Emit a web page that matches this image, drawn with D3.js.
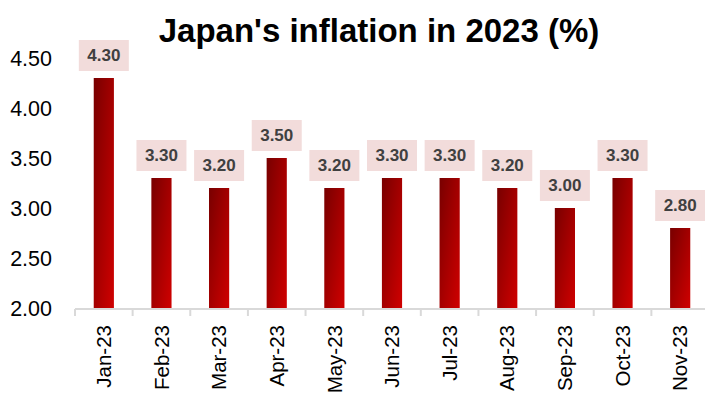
<!DOCTYPE html>
<html>
<head>
<meta charset="utf-8">
<script src="https://cdn.jsdelivr.net/npm/d3@7"></script>
<style>
  body { margin: 0; background: #fff; }
  svg { display: block; }
</style>
</head>
<body>
<svg width="705" height="403"></svg>
<script>
var months = ["Jan-23", "Feb-23", "Mar-23", "Apr-23", "May-23", "Jun-23", "Jul-23", "Aug-23", "Sep-23", "Oct-23", "Nov-23"];
var inflation = [4.30, 3.30, 3.20, 3.50, 3.20, 3.30, 3.30, 3.20, 3.00, 3.30, 2.80];
var yTicks = [2.00, 2.50, 3.00, 3.50, 4.00, 4.50];

var narrow = "'Liberation Sans Narrow', 'Liberation Sans', sans-serif";
var font = "'Liberation Sans', Arial, sans-serif";

var svg = d3.select("svg");

var x = d3.scaleBand()
    .domain(months)
    .range([75, 709])
    .paddingInner(0.65)
    .paddingOuter(0.325);

var y = d3.scaleLinear()
    .domain([2, 4.5])
    .range([308, 58]);

var grad = svg.append("defs").append("linearGradient")
    .attr("id", "barGrad")
    .attr("x1", 0).attr("y1", 0)
    .attr("x2", 1).attr("y2", 1);
grad.append("stop").attr("offset", "0%").attr("stop-color", "#780000");
grad.append("stop").attr("offset", "100%").attr("stop-color", "#d00000");

// title
svg.append("text")
    .attr("x", 379)
    .attr("y", 42)
    .attr("text-anchor", "middle")
    .style("font-family", narrow)
    .style("font-weight", "bold")
    .style("font-size", "33px")
    .attr("fill", "#000")
    .text("Japan's inflation in 2023 (%)");

// y axis labels
svg.append("g")
    .selectAll("text")
    .data(yTicks)
    .join("text")
    .attr("x", 52)
    .attr("y", function(d) { return y(d); })
    .attr("dy", "0.35em")
    .attr("text-anchor", "end")
    .style("font-family", font)
    .style("font-size", "21.5px")
    .attr("fill", "#000")
    .text(function(d) { return d.toFixed(2); });

// bars
svg.append("g")
    .selectAll("rect")
    .data(inflation)
    .join("rect")
    .attr("x", function(d, i) { return x(months[i]); })
    .attr("y", function(d) { return y(d); })
    .attr("width", x.bandwidth())
    .attr("height", function(d) { return y(2) - y(d); })
    .attr("fill", "url(#barGrad)");

// x axis
var step = x.step();
var xAxis = svg.append("g");
xAxis.append("line")
    .attr("x1", 75).attr("x2", 709)
    .attr("y1", 309).attr("y2", 309)
    .attr("stroke", "#d9d9d9")
    .attr("stroke-width", 2);
xAxis.selectAll(".tk")
    .data(d3.range(months.length + 1))
    .join("line")
    .attr("class", "tk")
    .attr("x1", function(i) { return 75 + i * step; })
    .attr("x2", function(i) { return 75 + i * step; })
    .attr("y1", 309).attr("y2", 316)
    .attr("stroke", "#d9d9d9")
    .attr("stroke-width", 2);
xAxis.selectAll(".lbl")
    .data(months)
    .join("text")
    .attr("class", "lbl")
    .attr("transform", function(d) {
      return "translate(" + (x(d) + x.bandwidth() / 2) + ",325) rotate(-90)";
    })
    .attr("dy", "0.35em")
    .attr("text-anchor", "end")
    .style("font-family", font)
    .style("font-size", "20.5px")
    .attr("fill", "#000")
    .text(function(d) { return d; });

// data labels
var lbl = svg.append("g")
    .selectAll("g")
    .data(inflation)
    .join("g")
    .attr("transform", function(d, i) {
      return "translate(" + (x(months[i]) + x.bandwidth() / 2) + "," + (y(d) - 7) + ")";
    });
lbl.append("rect")
    .attr("x", -25)
    .attr("y", -31)
    .attr("width", 50)
    .attr("height", 31)
    .attr("fill", "#f2dcdb");
lbl.append("text")
    .attr("y", -15.5)
    .attr("dy", "0.35em")
    .attr("text-anchor", "middle")
    .style("font-family", font)
    .style("font-weight", "bold")
    .style("font-size", "17px")
    .attr("fill", "#404040")
    .text(function(d) { return d.toFixed(2); });
</script>
</body>
</html>
